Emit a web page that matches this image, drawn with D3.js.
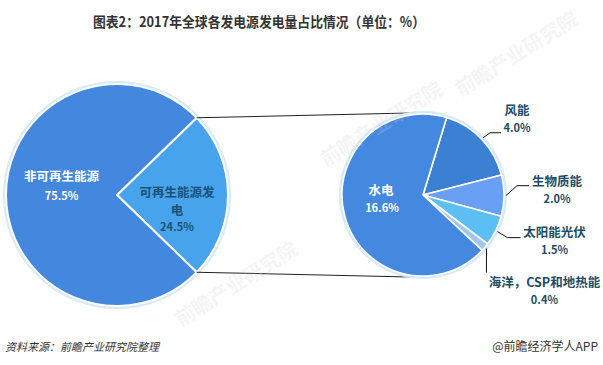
<!DOCTYPE html>
<html><head><meta charset="utf-8">
<script src="https://cdn.jsdelivr.net/npm/d3@7/dist/d3.min.js"></script>
<style>
html,body{margin:0;padding:0;background:#fff;}
svg{display:block;font-family:"Noto Sans CJK SC","Noto Sans",sans-serif;}
</style></head>
<body>
<svg id="chart" width="603" height="365"></svg>
<script>
// ---- data ----
const titleText = "图表2：2017年全球各发电源发电量占比情况（单位：%）";
const sourceText = "资料来源：前瞻产业研究院整理";
const creditText = "@前瞻经济学人APP";

const mainCategories = ["可再生能源发电", "非可再生能源"];
const mainValues = [24.5, 75.5];
const mainColors = ["#46a3ec", "#4487df"];

const subCategories = ["风能", "生物质能", "太阳能光伏", "海洋，CSP和地热能", "水电"];
const subValues = [4.0, 2.0, 1.5, 0.4, 16.6];
const subColors = ["#3b80d3", "#699ff4", "#5cbff4", "#a3c6f0", "#4588df"];

const watermarkText = "前瞻产业研究院";

// ---- layout ----
const svg = d3.select("#chart");
const deg = Math.PI / 180;
const fmt = v => v.toFixed(1) + "%";

const L = {cx: 117, cy: 195, r: 111};
const R = {cx: 423, cy: 195, r: 81};

// watermarks (faint, behind)
const wm = [[240, 290], [520, 60], [385, 130]];
const wmG = svg.append("g");

// title
svg.append("text").attr("x", 93).attr("y", 27)
  .attr("font-size", 14).attr("font-weight", "bold").attr("fill", "#333")
  .attr("textLength", 332).attr("lengthAdjust", "spacingAndGlyphs")
  .text(titleText);

// left pie
const mainSpan = mainValues[0] / d3.sum(mainValues) * 360;
const pieL = d3.pie().sort(null).value(d => d)
  .startAngle((90 - mainSpan / 2) * deg).endAngle((450 - mainSpan / 2) * deg);
const arcsL = pieL(mainValues);
const arcL = d3.arc().innerRadius(0).outerRadius(L.r);

const gL = svg.append("g").attr("transform", `translate(${L.cx},${L.cy})`);
gL.append("circle").attr("r", L.r + 1.5).attr("fill", "none").attr("stroke", "#d6e9f7").attr("stroke-width", 3);
gL.selectAll("path").data(arcsL).join("path")
  .attr("d", arcL).attr("fill", (d, i) => mainColors[i])
  .attr("stroke", "#fff").attr("stroke-width", 2).attr("stroke-linejoin", "round");

// right pie
const pieR = d3.pie().sort(null).value(d => d)
  .startAngle(17 * deg).endAngle(377 * deg);
const arcsR = pieR(subValues);
const arcR = d3.arc().innerRadius(0).outerRadius(R.r);

// connector lines
const pt = (c, r, a) => [c.cx + r * Math.sin(a), c.cy - r * Math.cos(a)];
const renew = arcsL[0];
const lines = [
  [pt(L, L.r, renew.startAngle), pt(R, R.r + 2, -9 * deg)],
  [pt(L, L.r, renew.endAngle), pt(R, R.r + 2, 189 * deg)]
];
svg.selectAll("line.conn").data(lines).join("line").attr("class", "conn")
  .attr("x1", d => d[0][0]).attr("y1", d => d[0][1])
  .attr("x2", d => d[1][0]).attr("y2", d => d[1][1])
  .attr("stroke", "#222").attr("stroke-width", 1.1);

const gR = svg.append("g").attr("transform", `translate(${R.cx},${R.cy})`);
gR.append("circle").attr("r", R.r + 1.5).attr("fill", "none").attr("stroke", "#d6e9f7").attr("stroke-width", 3);
gR.selectAll("path").data(arcsR).join("path")
  .attr("d", arcR).attr("fill", (d, i) => subColors[i])
  .attr("stroke", "#fff").attr("stroke-width", 1.6).attr("stroke-linejoin", "round");

// left labels
const labelFont = 12.5;
function centroidAt(c, r, d) {
  const a = (d.startAngle + d.endAngle) / 2;
  return pt(c, r, a);
}
{
  const p = centroidAt(L, L.r * 0.5, arcsL[1]);
  const t = svg.append("text").attr("text-anchor", "middle").attr("fill", "#fff")
    .attr("font-weight", "bold").attr("font-size", labelFont);
  t.append("tspan").attr("x", p[0]).attr("y", p[1] - 14).text(mainCategories[1]);
  t.append("tspan").attr("x", p[0]).attr("y", p[1] + 4.5).attr("font-size", 11).text(fmt(mainValues[1]));
}
{
  const p = centroidAt(L, L.r * 0.54, arcsL[0]);
  const name = mainCategories[0];
  const t = svg.append("text").attr("text-anchor", "middle").attr("fill", "#1b5273")
    .attr("font-weight", "bold").attr("font-size", labelFont);
  t.append("tspan").attr("x", p[0]).attr("y", p[1] + 1.5).text(name.slice(0, 6));
  t.append("tspan").attr("x", p[0]).attr("y", p[1] + 19.5).text(name.slice(6));
  t.append("tspan").attr("x", p[0]).attr("y", p[1] + 35.5).attr("font-size", 11).text(fmt(mainValues[0]));
}

// right labels
const labelDark = "#1d4d66";
{
  const d = arcsR[4];
  const p = centroidAt(R, R.r * 0.55, d);
  const t = svg.append("text").attr("text-anchor", "middle").attr("fill", "#fff")
    .attr("font-weight", "bold").attr("font-size", labelFont);
  t.append("tspan").attr("x", p[0] + 1).attr("y", p[1] - 11.5).text(subCategories[4]);
  t.append("tspan").attr("x", p[0] + 2).attr("y", p[1] + 6).attr("font-size", 11).text(fmt(subValues[4]));
}
const leaders = [
  {i: 0, elbow: [7, -5], end: [18, -5], lab: [34, -27]},
  {i: 1, elbow: [11, -10], end: [23, -10], lab: [51, -14]},
  {i: 2, elbow: [10, 6], end: [23, 6], lab: [57, 1]},
  {i: 3, elbow: [0, 24], end: [0, 24], lab: [58, 34]}
];
leaders.forEach(o => {
  const d = arcsR[o.i];
  const s = centroidAt(R, R.r + 2, d);
  const e1 = [s[0] + o.elbow[0], s[1] + o.elbow[1]];
  const e2 = [s[0] + o.end[0], s[1] + o.end[1]];
  svg.append("path").attr("d", d3.line()([s, e1, e2]))
    .attr("fill", "none").attr("stroke", "#111").attr("stroke-width", 1);
  const cx = s[0] + o.lab[0], cy = s[1] + o.lab[1];
  const t = svg.append("text").attr("text-anchor", "middle").attr("fill", labelDark)
    .attr("font-weight", "bold").attr("font-size", labelFont);
  t.append("tspan").attr("x", cx).attr("y", cy + 4.5).text(subCategories[o.i]);
  t.append("tspan").attr("x", cx).attr("y", cy + 21).attr("font-size", 11).text(fmt(subValues[o.i]));
});

// footer
svg.append("text").attr("x", 5).attr("y", 351).attr("font-size", 11)
  .attr("font-style", "italic").attr("fill", "#333").text(sourceText);
svg.append("text").attr("x", 598).attr("y", 351).attr("text-anchor", "end")
  .attr("font-size", 12).attr("fill", "#333").text(creditText);

// faint watermarks on top
wm.forEach(p => {
  svg.append("text").attr("transform", `translate(${p[0]},${p[1]}) rotate(-32)`)
    .attr("text-anchor", "middle").attr("font-size", 20).attr("font-weight", "bold")
    .attr("fill", "#d0d0d0").attr("fill-opacity", 0.22).text(watermarkText);
});
</script>
</body></html>
